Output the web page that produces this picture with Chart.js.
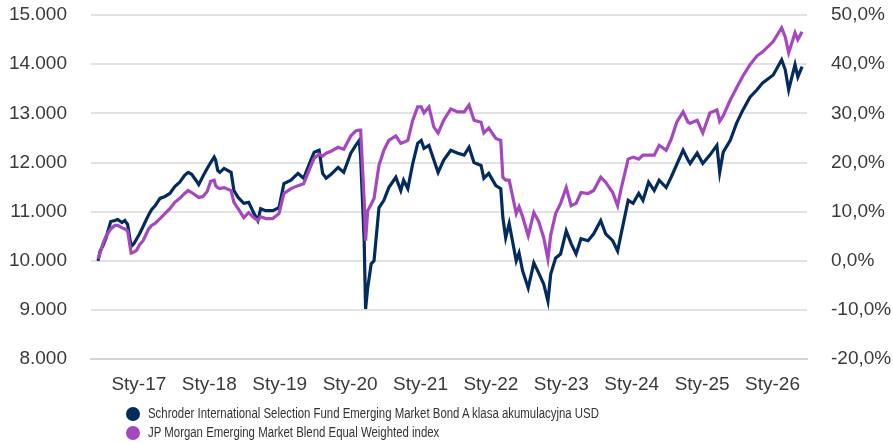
<!DOCTYPE html>
<html lang="pl">
<head>
<meta charset="UTF-8">
<title>Schroder EM Bond vs JP Morgan EMB</title>
<script src="https://cdn.jsdelivr.net/npm/chart.js@4.4.1/dist/chart.umd.min.js"></script>
<style>
  body { margin: 0; background: #fff; font-family: "Liberation Sans", Arial, sans-serif; }
  .wrap { position: relative; width: 893px; height: 444px; }
  .legend { position: absolute; left: 126px; top: 404px; font-size: 14px; color: #333; line-height: 19px; }
  .legend div { display: flex; align-items: center; white-space: nowrap; }
  .legend span.dot { display: inline-block; width: 14px; height: 14px; border-radius: 50%; margin-right: 8px; flex: none; }
  .legend span.txt { display: inline-block; transform: scaleX(0.815); transform-origin: left center; }
</style>
</head>
<body>
<div class="wrap">
  <canvas id="lineChart"></canvas>
  <div class="legend" id="legend"></div>
</div>
<script>
// dates as decimal years
var dates = [2016.42,2016.45,2016.49,2016.53,2016.60,2016.66,2016.70,2016.76,2016.80,2016.84,
  2016.89,2016.93,2016.97,2017.01,2017.06,2017.10,2017.14,2017.18,2017.23,2017.30,
  2017.37,2017.44,2017.51,2017.58,2017.65,2017.70,2017.75,2017.81,2017.85,2017.91,
  2017.97,2018.02,2018.07,2018.09,2018.12,2018.15,2018.21,2018.31,2018.35,2018.41,
  2018.49,2018.56,2018.63,2018.69,2018.73,2018.80,2018.90,2018.99,2019.06,2019.16,
  2019.26,2019.34,2019.44,2019.49,2019.56,2019.61,2019.66,2019.73,2019.83,2019.91,
  2020.01,2020.08,2020.13,2020.15,2020.20,2020.22,2020.25,2020.30,2020.34,2020.41,
  2020.48,2020.55,2020.65,2020.72,2020.76,2020.82,2020.89,2020.96,2021.01,2021.05,
  2021.12,2021.19,2021.25,2021.33,2021.43,2021.53,2021.62,2021.69,2021.76,2021.86,
  2021.90,2021.97,2022.07,2022.14,2022.17,2022.21,2022.26,2022.36,2022.40,2022.45,
  2022.53,2022.61,2022.68,2022.75,2022.81,2022.85,2022.92,2022.99,2023.07,2023.14,
  2023.21,2023.28,2023.38,2023.46,2023.56,2023.63,2023.73,2023.80,2023.85,2023.95,
  2024.02,2024.10,2024.16,2024.24,2024.32,2024.39,2024.49,2024.56,2024.64,2024.73,
  2024.80,2024.83,2024.93,2025.01,2025.11,2025.21,2025.25,2025.30,2025.40,2025.49,
  2025.58,2025.68,2025.78,2025.86,2026.01,2026.13,2026.18,2026.23,2026.32,2026.36,
  2026.42];

var fundValues = [10000,10200,10310,10450,10800,10820,10840,10780,10820,10740,
  10290,10350,10450,10550,10700,10820,10940,11040,11120,11270,
  11310,11370,11510,11600,11740,11800,11760,11640,11550,11720,
  11880,12000,12110,12050,11840,11800,11880,11800,11430,11290,
  11170,11190,10980,10820,11060,11020,11020,11080,11570,11640,
  11780,11680,12040,12210,12250,11780,11680,11760,11900,11800,
  12190,12350,12450,12110,10410,9020,9450,9940,10000,11080,
  11230,11490,11700,11430,11640,11470,11980,12390,12450,12290,
  12350,12050,11800,12050,12250,12190,12150,12310,12000,11940,
  11680,11780,11530,11470,10880,10470,10760,10000,10160,9800,
  9450,9960,9750,9530,9180,9730,10060,10140,10610,10350,
  10140,10450,10410,10550,10820,10550,10410,10200,10550,11230,
  11170,11370,11230,11600,11430,11640,11490,11700,11960,12250,
  12050,11980,12190,11980,12150,12350,11800,12210,12450,12800,
  13070,13330,13480,13620,13780,14090,13890,13480,13990,13740,
  13950];

var indexValues = [10040,10160,10350,10490,10650,10720,10720,10670,10650,10610,
  10160,10180,10220,10330,10410,10530,10650,10720,10760,10860,
  10960,11060,11190,11270,11370,11430,11390,11330,11290,11310,
  11410,11620,11640,11530,11490,11470,11490,11430,11190,11060,
  10880,10980,10880,10820,10900,10860,10860,10960,11370,11470,
  11530,11570,11920,12090,12170,12130,12190,12230,12310,12270,
  12540,12640,12660,12660,11230,10410,11020,11150,11270,11940,
  12250,12450,12540,12390,12410,12450,12860,13130,13130,13010,
  13130,12720,12600,12860,13090,13030,13030,13170,12860,12820,
  12600,12700,12490,12450,11700,11640,11640,10960,11100,10900,
  10510,10980,10800,10470,10040,10530,10960,11170,11490,11120,
  11170,11390,11370,11430,11700,11600,11390,11120,11470,12070,
  12110,12070,12150,12150,12150,12350,12250,12470,12820,13030,
  12820,12800,12860,12600,13010,13070,12840,12950,13270,13520,
  13760,13990,14170,14250,14460,14740,14560,14230,14640,14500,
  14660];

var seriesNames = [
  'Schroder International Selection Fund Emerging Market Bond A klasa akumulacyjna USD',
  'JP Morgan Emerging Market Blend Equal Weighted index'
];
var seriesColors = ['#042b5e', '#a547bf'];

var tickYears = [2017, 2018, 2019, 2020, 2021, 2022, 2023, 2024, 2025, 2026];
var tickLabels = ['Sty-17','Sty-18','Sty-19','Sty-20','Sty-21','Sty-22','Sty-23','Sty-24','Sty-25','Sty-26'];

function points(values) {
  return dates.map(function (d, i) { return { x: d, y: values[i] }; });
}

var tickFont = { family: '"Liberation Sans", Arial, sans-serif', size: 19 };
var tickColor = '#3a3a3a';

var ctx = document.getElementById('lineChart').getContext('2d');
var myChart = new Chart(ctx, {
  type: 'line',
  data: {
    datasets: [
      {
        label: seriesNames[0],
        data: points(fundValues),
        borderColor: seriesColors[0],
        backgroundColor: seriesColors[0],
        borderWidth: 3.2,
        pointRadius: 0,
        order: 1
      },
      {
        label: seriesNames[1],
        data: points(indexValues),
        borderColor: seriesColors[1],
        backgroundColor: seriesColors[1],
        borderWidth: 3.2,
        pointRadius: 0,
        order: 0
      }
    ]
  },
  options: {
    responsive: true,
    maintainAspectRatio: false,
    animation: false,
    layout: { padding: { left: 0, right: 0, top: 15, bottom: 34 } },
    plugins: { legend: { display: false }, tooltip: { enabled: false } },
    scales: {
      x: {
        type: 'linear',
        min: 2016.32,
        max: 2026.49,
        afterBuildTicks: function (scale) {
          scale.ticks = tickYears.map(function (y) { return { value: y }; });
        },
        ticks: {
          font: tickFont,
          color: tickColor,
          padding: 14,
          maxRotation: 0,
          autoSkip: false,
          callback: function (value) {
            var i = tickYears.indexOf(value);
            return i >= 0 ? tickLabels[i] : '';
          }
        },
        grid: { display: false, drawTicks: false },
        border: { display: true, color: '#d4d4d4', width: 2 }
      },
      y: {
        position: 'left',
        min: 8000,
        max: 15000,
        afterFit: function (scale) { scale.width = 91; },
        ticks: {
          stepSize: 1000,
          font: tickFont,
          color: tickColor,
          padding: 0,
          callback: function (v) {
            return String(v).replace(/\B(?=(\d{3})+(?!\d))/g, '.');
          }
        },
        grid: { color: '#e2e2e2', lineWidth: 2, drawTicks: true, tickLength: 24, tickColor: 'rgba(0,0,0,0)' },
        border: { display: false }
      },
      y2: {
        position: 'right',
        min: -20,
        max: 50,
        afterFit: function (scale) { scale.width = 86; },
        ticks: {
          stepSize: 10,
          font: tickFont,
          color: tickColor,
          padding: 0,
          callback: function (v) {
            return v.toFixed(1).replace('.', ',') + '%';
          }
        },
        grid: { display: false, drawTicks: true, tickLength: 24, tickColor: 'rgba(0,0,0,0)' },
        border: { display: false }
      }
    }
  }
});

// legend below the chart
var legendEl = document.getElementById('legend');
seriesNames.forEach(function (name, i) {
  var row = document.createElement('div');
  var dot = document.createElement('span');
  dot.className = 'dot';
  dot.style.background = seriesColors[i];
  var txt = document.createElement('span');
  txt.className = 'txt';
  txt.textContent = name;
  row.appendChild(dot);
  row.appendChild(txt);
  legendEl.appendChild(row);
});
</script>
</body>
</html>
